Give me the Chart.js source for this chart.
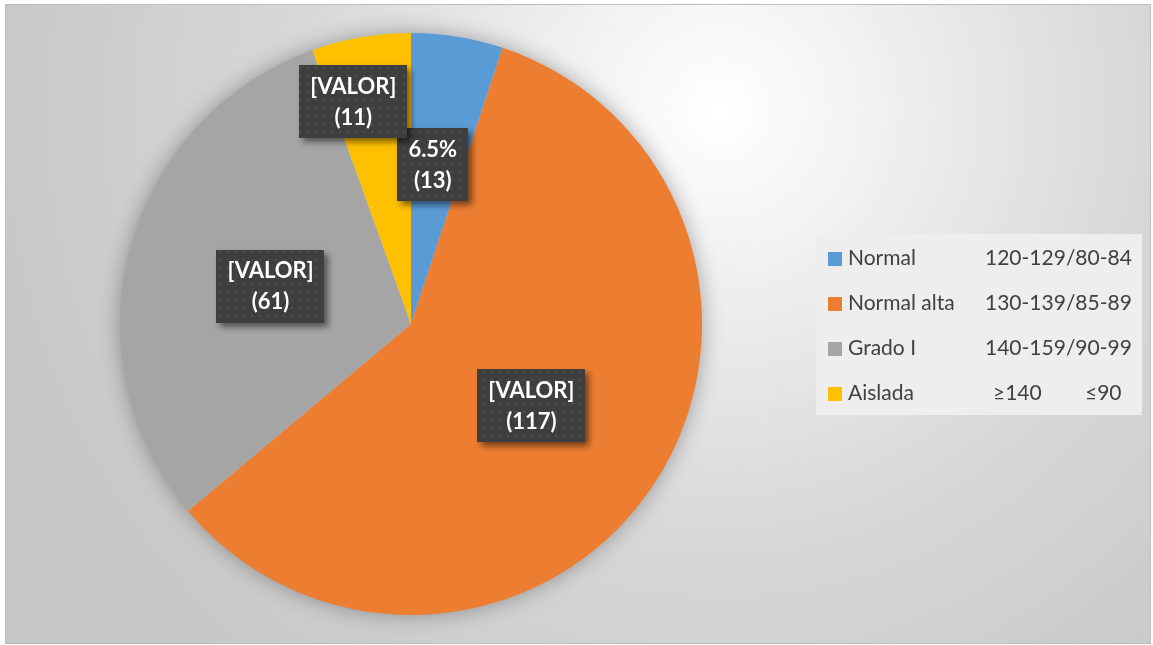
<!DOCTYPE html>
<html>
<head>
<meta charset="utf-8">
<title>Presión arterial</title>
<script src="https://cdn.jsdelivr.net/npm/chart.js@4.4.1/dist/chart.umd.min.js"></script>
<style>
  html, body { margin: 0; padding: 0; background: #ffffff; }
  #wrap { position: relative; width: 1153px; height: 645px; }
</style>
</head>
<body>
<div id="wrap"><canvas id="pieChart"></canvas></div>
<script>
// datos del gráfico
const categories = ['Normal', 'Normal alta', 'Grado I', 'Aislada'];
const ranges = ['120-129/80-84', '130-139/85-89', '140-159/90-99', '≥140\t≤90'];
const shares = [5.1, 58.8, 30.6, 5.5];          // tamaño de cada porción (%)
const counts = [13, 117, 61, 11];
const topLabels = ['6.5%', '[VALOR]', '[VALOR]', '[VALOR]'];
const colors = ['#5b9bd5', '#ed7d31', '#a5a5a5', '#ffc000'];

// fondo con degradado y borde del área del gráfico
const backgroundPlugin = {
    id: 'background',
    beforeDraw(chart) {
        const ctx = chart.ctx;
        ctx.save();
        const g = ctx.createRadialGradient(720, 110, 0, 720, 110, 760);
        g.addColorStop(0, '#ffffff');
        g.addColorStop(0.12, '#f7f7f7');
        g.addColorStop(0.55, '#d8d8d8');
        g.addColorStop(1, '#c6c6c6');
        ctx.fillStyle = g;
        ctx.fillRect(5, 4, 1145, 639);
        ctx.strokeStyle = '#bcbcbc';
        ctx.lineWidth = 1;
        ctx.strokeRect(5.5, 4.5, 1145, 639);
        ctx.restore();
    },
    beforeDatasetsDraw(chart) {
        // sombra suave alrededor del círculo
        const arc = chart.getDatasetMeta(0).data[0];
        if (!arc) return;
        const ctx = chart.ctx;
        ctx.save();
        ctx.shadowColor = 'rgba(0,0,0,0.35)';
        ctx.shadowBlur = 22;
        ctx.fillStyle = '#cccccc';
        ctx.beginPath();
        ctx.arc(arc.x, arc.y, arc.outerRadius - 1, 0, Math.PI * 2);
        ctx.fill();
        ctx.restore();
    }
};

// patrón de puntos para las etiquetas
function makePattern(ctx) {
    const p = document.createElement('canvas');
    p.width = 8; p.height = 8;
    const c = p.getContext('2d');
    c.fillStyle = '#3e3e3e';
    c.fillRect(0, 0, 8, 8);
    c.fillStyle = '#4b4b4b';
    c.beginPath();
    c.arc(4, 4, 1.4, 0, Math.PI * 2);
    c.fill();
    return ctx.createPattern(p, 'repeat');
}

// etiquetas de datos
const labelPlugin = {
    id: 'valueLabels',
    afterDatasetsDraw(chart, args, opts) {
        const ctx = chart.ctx;
        const meta = chart.getDatasetMeta(0);
        const pattern = makePattern(ctx);
        ctx.save();
        ctx.font = 'bold 22px Lato';
        ctx.textAlign = 'center';
        ctx.textBaseline = 'middle';
        meta.data.forEach((arc, i) => {
            const mid = (arc.startAngle + arc.endAngle) / 2;
            const o = opts.place[i];
            const x = arc.x + Math.cos(mid) * arc.outerRadius * o.r + o.dx;
            const y = arc.y + Math.sin(mid) * arc.outerRadius * o.r + o.dy;
            const l1 = topLabels[i];
            const l2 = '(' + counts[i] + ')';
            const w = Math.max(ctx.measureText(l1).width, ctx.measureText(l2).width) + 22;
            const h = 73;
            ctx.save();
            ctx.shadowColor = 'rgba(0,0,0,0.5)';
            ctx.shadowBlur = 6;
            ctx.shadowOffsetX = 4;
            ctx.shadowOffsetY = 4;
            ctx.fillStyle = pattern;
            ctx.fillRect(Math.round(x - w / 2), Math.round(y - h / 2), Math.round(w), h);
            ctx.restore();
            ctx.fillStyle = '#ffffff';
            ctx.fillText(l1, x, y - 15);
            ctx.fillText(l2, x, y + 16);
        });
        ctx.restore();
    }
};

// leyenda con dos columnas
const legendPlugin = {
    id: 'sideLegend',
    afterDraw(chart) {
        const ctx = chart.ctx;
        ctx.save();
        ctx.fillStyle = '#eeeeee';
        ctx.fillRect(816, 234, 326, 181);
        ctx.font = '21px Lato';
        ctx.textBaseline = 'alphabetic';
        ctx.textAlign = 'left';
        categories.forEach((name, i) => {
            const y = 252 + i * 45;
            ctx.fillStyle = colors[i];
            ctx.fillRect(828, y, 14, 14);
            ctx.fillStyle = '#404040';
            ctx.fillText(name, 848, y + 13);
            const parts = ranges[i].split('\t');
            if (parts.length > 1) {
                ctx.fillText(parts[0], 993, y + 13);
                ctx.fillText(parts[1], 1085, y + 13);
            } else {
                ctx.fillText(parts[0], 985, y + 13);
            }
        });
        ctx.restore();
    }
};

const ctx = document.getElementById('pieChart').getContext('2d');
const pieChart = new Chart(ctx, {
    type: 'pie',
    data: {
        labels: categories,
        datasets: [{
            data: shares,
            backgroundColor: colors,
            borderWidth: 0
        }]
    },
    options: {
        responsive: true,
        maintainAspectRatio: false,
        animation: false,
        layout: {
            padding: { left: 120, right: 451, top: 33, bottom: 30 }
        },
        plugins: {
            legend: { display: false },
            tooltip: { enabled: false },
            valueLabels: {
                place: [
                    { r: 0.555, dx: -4, dy: 0 },
                    { r: 0.5, dx: 0, dy: 0 },
                    { r: 0.5, dx: 0, dy: 0 },
                    { r: 0.775, dx: -19, dy: 0 }
                ]
            }
        }
    },
    plugins: [backgroundPlugin, labelPlugin, legendPlugin]
});
</script>
</body>
</html>
